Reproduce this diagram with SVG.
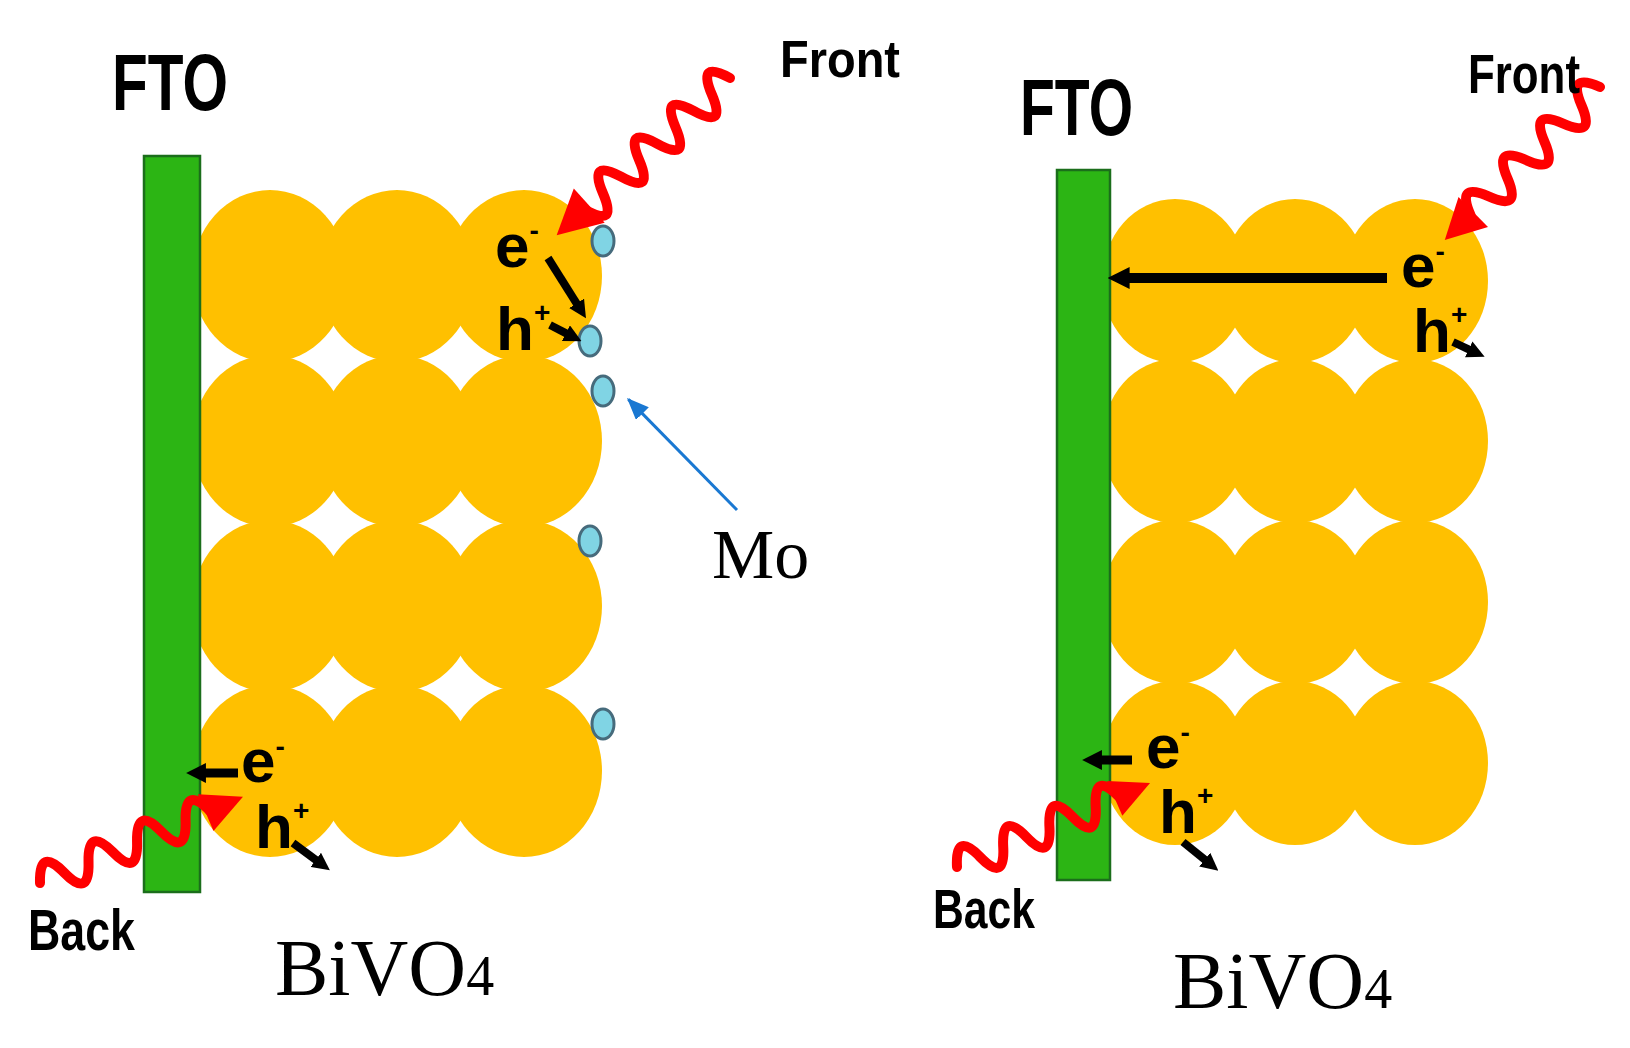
<svg xmlns="http://www.w3.org/2000/svg" width="1630" height="1048" viewBox="0 0 1630 1048">
<style>
.bg{fill:#ffffff}
.p{fill:#ffc000}
.fto{fill:#2cb514;stroke:#1b6e1b;stroke-width:2.5}
.mo{fill:#80d4e4;stroke:#466b7c;stroke-width:3}
.sans{font-family:"Liberation Sans",Arial,sans-serif;font-weight:bold;fill:#000}
.serif{font-family:"Liberation Serif","Times New Roman",serif;fill:#000}
.eh{font-family:"Liberation Sans",Arial,sans-serif;font-weight:bold;font-size:62px;fill:#000}
.sup{font-size:28px}
.wave{fill:none;stroke:#ff0000;stroke-width:10;stroke-linecap:round;stroke-linejoin:round}
.head{fill:#ff0000}
.blk{stroke:#000;fill:none;marker-end:url(#ah)}
.blue{stroke:#1a78d2;stroke-width:3;fill:none;marker-end:url(#bh)}
</style>
<defs>
<marker id="ah" viewBox="0 0 10 10" refX="3" refY="5" markerWidth="2.2" markerHeight="2.2" orient="auto" markerUnits="strokeWidth">
<path d="M0,0 L10,5 L0,10 z" fill="#000"/>
</marker>
<marker id="bh" viewBox="0 0 22 18" refX="20" refY="9" markerWidth="22" markerHeight="18" orient="auto" markerUnits="userSpaceOnUse">
<path d="M0,0 L22,9 L0,18 z" fill="#1a78d2"/>
</marker>
</defs>
<rect class="bg" x="0" y="0" width="1630" height="1048"/>

<g id="left-particles">
<ellipse class="p" cx="270" cy="276" rx="78" ry="86"/>
<ellipse class="p" cx="397" cy="276" rx="78" ry="86"/>
<ellipse class="p" cx="524" cy="276" rx="78" ry="86"/>
<ellipse class="p" cx="270" cy="441" rx="78" ry="86"/>
<ellipse class="p" cx="397" cy="441" rx="78" ry="86"/>
<ellipse class="p" cx="524" cy="441" rx="78" ry="86"/>
<ellipse class="p" cx="270" cy="606" rx="78" ry="86"/>
<ellipse class="p" cx="397" cy="606" rx="78" ry="86"/>
<ellipse class="p" cx="524" cy="606" rx="78" ry="86"/>
<ellipse class="p" cx="270" cy="771" rx="78" ry="86"/>
<ellipse class="p" cx="397" cy="771" rx="78" ry="86"/>
<ellipse class="p" cx="524" cy="771" rx="78" ry="86"/>
</g>
<g id="right-particles">
<ellipse class="p" cx="1175" cy="281" rx="73" ry="82"/>
<ellipse class="p" cx="1295" cy="281" rx="73" ry="82"/>
<ellipse class="p" cx="1415" cy="281" rx="73" ry="82"/>
<ellipse class="p" cx="1175" cy="441" rx="73" ry="82"/>
<ellipse class="p" cx="1295" cy="441" rx="73" ry="82"/>
<ellipse class="p" cx="1415" cy="441" rx="73" ry="82"/>
<ellipse class="p" cx="1175" cy="602" rx="73" ry="82"/>
<ellipse class="p" cx="1295" cy="602" rx="73" ry="82"/>
<ellipse class="p" cx="1415" cy="602" rx="73" ry="82"/>
<ellipse class="p" cx="1175" cy="763" rx="73" ry="82"/>
<ellipse class="p" cx="1295" cy="763" rx="73" ry="82"/>
<ellipse class="p" cx="1415" cy="763" rx="73" ry="82"/>
</g>

<g id="left-fto">
<rect class="fto" x="144" y="156" width="56" height="736"/>
</g>
<g id="right-fto">
<rect class="fto" x="1057" y="170" width="53" height="710"/>
</g>

<g id="mo-dots">
<ellipse class="mo" cx="603" cy="241" rx="11" ry="15"/>
<ellipse class="mo" cx="590" cy="341" rx="11" ry="15"/>
<ellipse class="mo" cx="603" cy="391" rx="11" ry="15"/>
<ellipse class="mo" cx="590" cy="541" rx="11" ry="15"/>
<ellipse class="mo" cx="603" cy="724" rx="11" ry="15"/>
</g>

<g id="connectors">
<line class="blk" stroke-width="8" x1="548" y1="258" x2="579.4" y2="307.8"/>
<line class="blk" stroke-width="8" x1="550" y1="325" x2="570.6" y2="335.6"/>
<line class="blk" stroke-width="9" x1="238" y1="773" x2="200" y2="773"/>
<line class="blk" stroke-width="8" x1="293" y1="843" x2="320" y2="863"/>
<line class="blk" stroke-width="10" x1="1387" y1="278" x2="1123" y2="278"/>
<line class="blk" stroke-width="8" x1="1453" y1="342" x2="1473.5" y2="351.6"/>
<line class="blk" stroke-width="9" x1="1132" y1="760" x2="1096" y2="760"/>
<line class="blk" stroke-width="8" x1="1183" y1="842" x2="1208.8" y2="862.9"/>
<line class="blue" x1="737" y1="510" x2="628.4" y2="399.4"/>
</g>

<g id="light-front-left" transform="translate(730,78) rotate(137.8)">
<path class="wave" d="M0,0 q12.25,36 24.5,0 t24.5,0 t24.5,0 t24.5,0 t24.5,0 t24.5,0 t24.5,0 t24.5,0"/>
<polygon class="head" points="190,-23 234,0 190,23"/>
</g>
<g id="light-front-right" transform="translate(1600,87) rotate(135.4)">
<path class="wave" d="M0,0 q13,34 26,0 t26,0 t26,0 t26,0 t26,0 t26,0 t26,0"/>
<polygon class="head" points="178,-21 218,0 178,21"/>
</g>
<g id="light-back-left" transform="translate(40,883) rotate(-23)">
<path class="wave" d="M0,0 q13.18,-34 26.36,0 t26.36,0 t26.36,0 t26.36,0 t26.36,0 t26.36,0 t26.36,0"/>
<polygon class="head" points="180,-20 220.5,0 180,20"/>
</g>
<g id="light-back-right" transform="translate(957,867) rotate(-23.5)">
<path class="wave" d="M0,0 q12.6,-34 25.2,0 t25.2,0 t25.2,0 t25.2,0 t25.2,0 t25.2,0 t25.2,0"/>
<polygon class="head" points="172,-19 210.5,0 172,19"/>
</g>

<g id="labels">
<text class="sans" x="112" y="110" font-size="80" textLength="116" lengthAdjust="spacingAndGlyphs">FTO</text>
<text class="sans" x="1020" y="135" font-size="80" textLength="113" lengthAdjust="spacingAndGlyphs">FTO</text>
<text class="sans" x="780" y="77" font-size="52" textLength="120" lengthAdjust="spacingAndGlyphs">Front</text>
<text class="sans" x="1468" y="93" font-size="56" textLength="112" lengthAdjust="spacingAndGlyphs">Front</text>
<text class="sans" x="28" y="950" font-size="58" textLength="107" lengthAdjust="spacingAndGlyphs">Back</text>
<text class="sans" x="933" y="928" font-size="55" textLength="102" lengthAdjust="spacingAndGlyphs">Back</text>
<text class="serif" x="712" y="578" font-size="70">Mo</text>
<text class="serif" x="275" y="995" font-size="80">BiVO<tspan font-size="56">4</tspan></text>
<text class="serif" x="1173" y="1008" font-size="80">BiVO<tspan font-size="56">4</tspan></text>
<text class="eh" x="495" y="267">e<tspan class="sup" dy="-27">-</tspan></text>
<text class="eh" x="496" y="350">h<tspan class="sup" dy="-28">+</tspan></text>
<text class="eh" x="241" y="782" font-size="56">e<tspan class="sup" dy="-26">-</tspan></text>
<text class="eh" x="255" y="848">h<tspan class="sup" dy="-28">+</tspan></text>
<text class="eh" x="1401" y="287" font-size="58">e<tspan class="sup" dy="-26">-</tspan></text>
<text class="eh" x="1413" y="352">h<tspan class="sup" dy="-28">+</tspan></text>
<text class="eh" x="1146" y="768" font-size="58">e<tspan class="sup" dy="-26">-</tspan></text>
<text class="eh" x="1159" y="833">h<tspan class="sup" dy="-28">+</tspan></text>
</g>
</svg>
